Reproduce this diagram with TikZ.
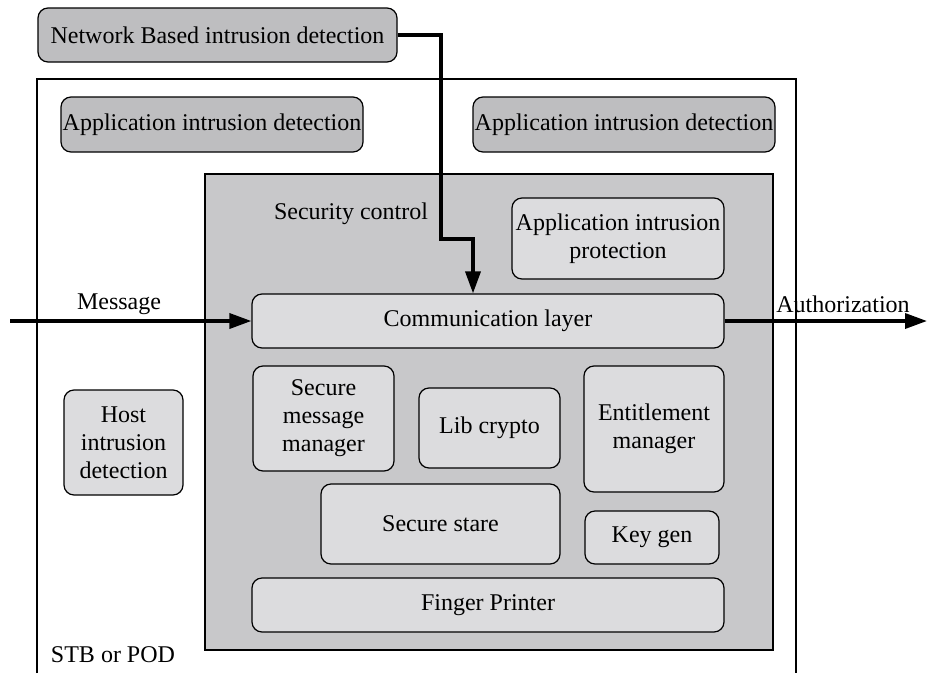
\documentclass[tikz,border=0pt]{standalone}
\usepackage{fontspec}
\setmainfont{Liberation Serif}
\usetikzlibrary{arrows.meta}
\definecolor{darkfill}{RGB}{190,190,192}
\definecolor{secfill}{RGB}{200,200,202}
\definecolor{lightfill}{RGB}{220,220,222}
\tikzset{
  darkbox/.style={draw, line width=1.2pt, rounded corners=10pt, fill=darkfill, align=center, inner sep=0pt, font=\fontsize{24}{28}\selectfont},
  lightbox/.style={draw, line width=1.2pt, rounded corners=10pt, fill=lightfill, align=center, inner sep=0pt, font=\fontsize{24}{28}\selectfont},
  lbl/.style={inner sep=0pt, font=\fontsize{24}{28}\selectfont},
  flow/.style={line width=3.5pt, -{Triangle[length=22pt,width=15pt]}},
}
\begin{document}
\begin{tikzpicture}[x=1pt,y=-1pt]
\useasboundingbox (0,0) rectangle (927,673);
\fill[white] (0,0) rectangle (927,673);
% outer box (open at bottom)
\draw[line width=1.2pt] (37,673) -- (37,79) -- (796,79) -- (796,673);
% security control area
\draw[line width=1.2pt, fill=secfill] (205,174) rectangle (773,650);
\node[lbl] (stb) at (113,655) {STB or POD};
\node[lbl] (seclbl) at (351,214) {Security control};

\node[darkbox, minimum width=359pt, minimum height=54pt] (net) at (217.5,35) {Network Based intrusion detection};
\node[darkbox, minimum width=302pt, minimum height=55pt] (appL) at (212,124.5) {Application intrusion detection};
\node[darkbox, minimum width=302pt, minimum height=55pt] (appR) at (624,124.5) {Application intrusion detection};

\node[lightbox, minimum width=212pt, minimum height=81pt] (aip) at (618,238.5) {Application intrusion\\protection};
\node[lightbox, minimum width=472pt, minimum height=54pt] (comm) at (488,321) {Communication layer};
\node[lightbox, minimum width=141pt, minimum height=105pt] (smm) at (323.5,418.5) {Secure\\message\\manager};
\node[lightbox, minimum width=141pt, minimum height=80pt] (lib) at (489.5,428) {Lib crypto};
\node[lightbox, minimum width=140pt, minimum height=126pt] (ent) at (654,429) {Entitlement\\manager};
\node[lightbox, minimum width=119pt, minimum height=105pt] (host) at (123.5,442.5) {Host\\intrusion\\detection};
\node[lightbox, minimum width=239pt, minimum height=80pt] (stare) at (440.5,524) {Secure stare};
\node[lightbox, minimum width=134pt, minimum height=53pt] (keygen) at (652,537.5) {Key gen};
\node[lightbox, minimum width=472pt, minimum height=54pt] (finger) at (488,605) {Finger Printer};

% connectors
\coordinate (j1) at (441,239);
\coordinate (j2) at (473,239);
\draw[flow] (net.east) -| (j1) -- (j2) -- (j2 |- comm.north);

\coordinate (min) at (10,321);
\coordinate (aout) at (927,321);
\draw[flow] (min) -- (comm.west);
\draw[flow] (comm.east) -- (aout);
\node[lbl] (msg) at (119,304) {Message};
\node[lbl] (auth) at (843,304) {Authorization};
\end{tikzpicture}
\end{document}
